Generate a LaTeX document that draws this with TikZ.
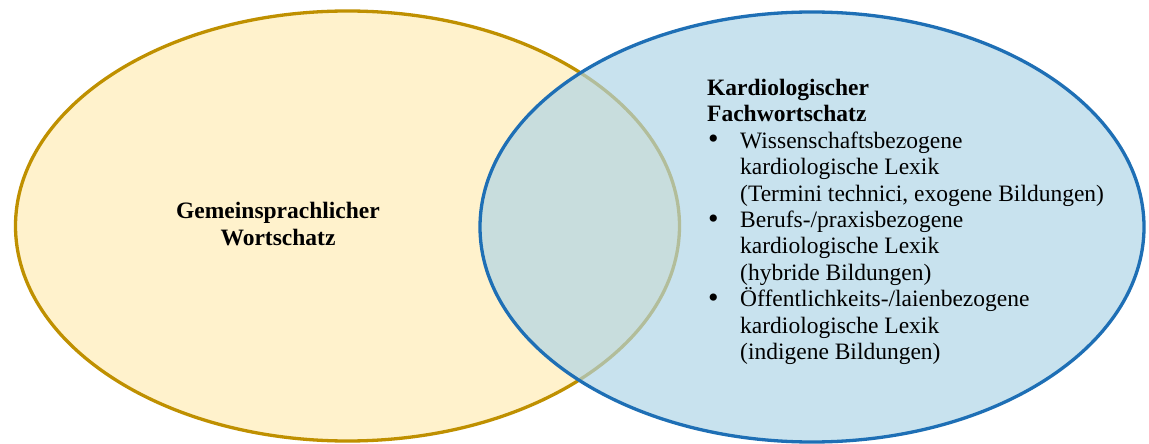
\documentclass[tikz,border=0pt]{standalone}
\usepackage{fontspec}
\setmainfont{Liberation Serif}
\usetikzlibrary{shapes.geometric}
\definecolor{goldline}{RGB}{191,144,0}
\definecolor{yellowfill}{RGB}{255,242,204}
\definecolor{blueline}{RGB}{30,111,181}
\definecolor{bluefill}{RGB}{173,212,230}
\tikzset{
  venn/.style={ellipse, inner sep=0pt, minimum width=664pt, minimum height=430pt, line width=3.3pt},
  lbl/.style={inner sep=0pt, font=\fontsize{23.5}{26.4}\selectfont},
}
\newcommand{\bul}{\makebox[33pt][l]{\hspace*{1pt}\raisebox{-0.5pt}{\fontsize{30}{26.4}\selectfont\textbullet}}}
\newcommand{\ind}{\hspace*{33pt}}
\begin{document}
\begin{tikzpicture}[x=1pt,y=-1pt]
\useasboundingbox (0,0) rectangle (1149,444);
\fill[white] (0,0) rectangle (1149,444);
\node[venn, draw=goldline, fill=yellowfill] (gen) at (347.5,226) {};
\node[venn, draw=blueline, fill=bluefill, fill opacity=0.67] (fach) at (812,227) {};
\node[lbl, align=center, anchor=base] (gentext) at (278,245)
  {\textbf{Gemeinsprachlicher}\\\textbf{Wortschatz}};
\node[lbl, align=left, anchor=north west] (fachtext) at (707,79)
  {\textbf{Kardiologischer}\\
   \textbf{Fachwortschatz}\\
   \bul Wissenschaftsbezogene\\
   \ind kardiologische Lexik\\
   \ind (Termini technici, exogene Bildungen)\\
   \bul Berufs-/praxisbezogene\\
   \ind kardiologische Lexik\\
   \ind (hybride Bildungen)\\
   \bul Öffentlichkeits-/laienbezogene\\
   \ind kardiologische Lexik\\
   \ind (indigene Bildungen)};
\end{tikzpicture}
\end{document}
